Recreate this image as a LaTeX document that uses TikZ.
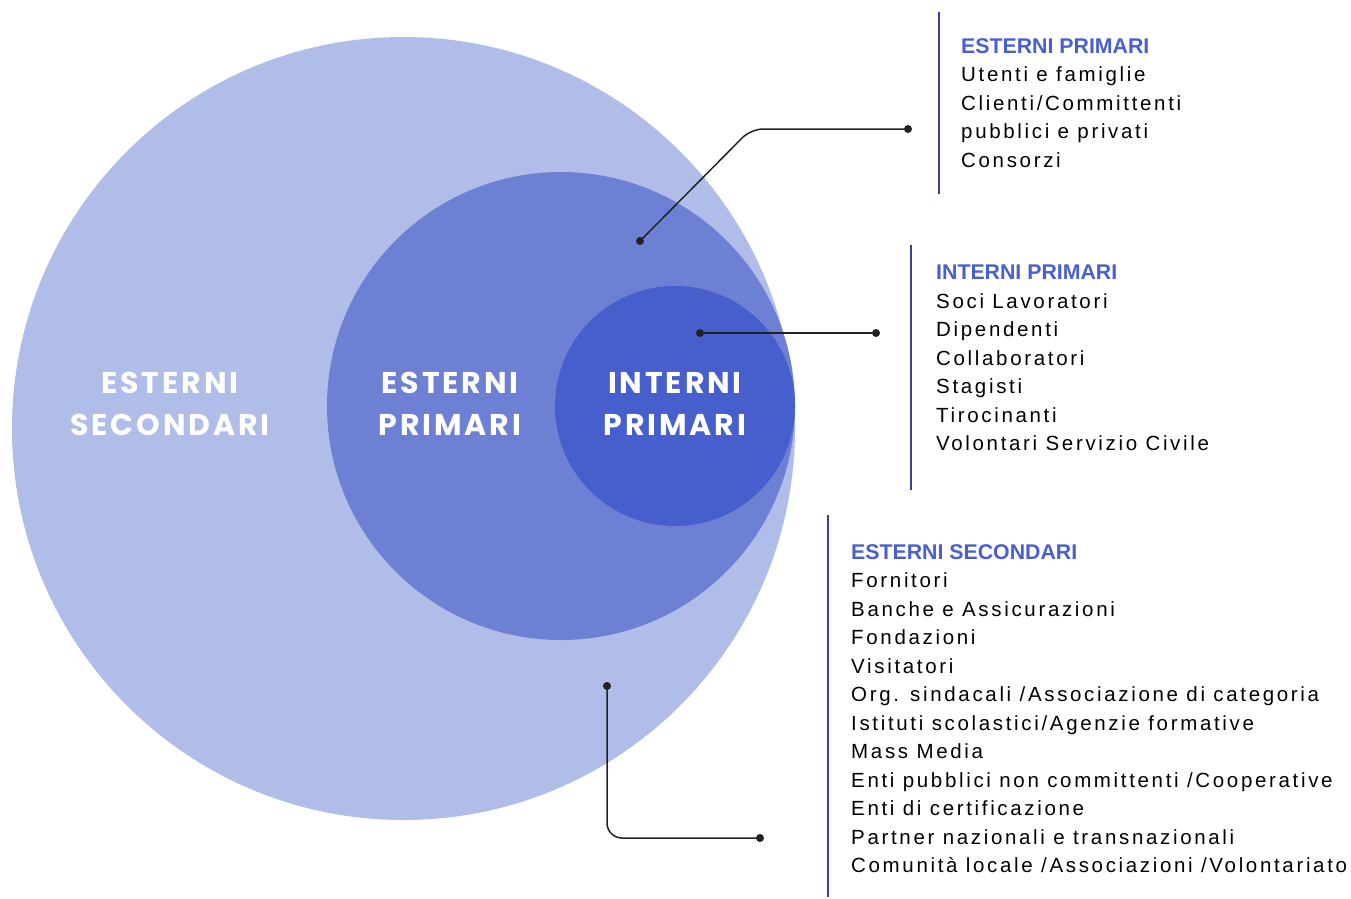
\documentclass[tikz,border=0pt]{standalone}
\usepackage{fontspec}
\setmainfont{Liberation Sans}
\newfontfamily\listfont[LetterSpace=13]{Liberation Sans}
\newfontfamily\headfont{Liberation Sans}
\newfontfamily\ringfont[LetterSpace=9.5]{Poppins}
\definecolor{secfill}{HTML}{B1BDE9}
\definecolor{primfill}{HTML}{6E80D4}
\definecolor{intfill}{HTML}{475FCC}
\definecolor{headblue}{HTML}{4A5FCF}
\definecolor{barblue}{HTML}{3A3F8F}
\definecolor{inkc}{HTML}{222222}
\begin{document}
\begin{tikzpicture}[x=1pt, y=-1pt,
    ring/.style={text=white, align=center, inner sep=0pt,
        font=\ringfont\bfseries\fontsize{30}{42}\selectfont},
    listblock/.style={anchor=north west, align=left, inner sep=0pt,
        font=\listfont\fontsize{20.5}{28.5}\selectfont},
    bar/.style={barblue, line width=2pt},
    conn/.style={inkc, line width=1.5pt},
    dot/.style={circle, fill=inkc, inner sep=0pt, minimum size=8pt}]
        \useasboundingbox (0,0) rectangle (1351,898);

        \fill[secfill] (403.5,428.5) circle (391.5pt);
        \fill[primfill] (561,406) circle (234pt);
        \fill[intfill] (675,406) circle (120pt);

        \node[ring] (R0) at (170,404) {ESTERNI\\SECONDARI};
        \node[ring] (R1) at (450,404) {ESTERNI\\PRIMARI};
        \node[ring] (R2) at (675,404) {INTERNI\\PRIMARI};

        \draw[bar] (939,12) -- (939,194);
        \draw[bar] (911,245) -- (911,490);
        \draw[bar] (828,515) -- (828,897);

        \node[listblock] (L0) at (961,38) {{\headfont\bfseries\fontsize{21.3}{28.5}\selectfont\color{headblue}ESTERNI PRIMARI}\\
            Utenti e famiglie\\Clienti/Committenti\\pubblici e privati\\Consorzi};
        \node[listblock] (L1) at (936,265) {{\headfont\bfseries\fontsize{21.3}{28.5}\selectfont\color{headblue}INTERNI PRIMARI}\\
            Soci Lavoratori\\Dipendenti\\Collaboratori\\Stagisti\\Tirocinanti\\Volontari Servizio Civile};
        \node[listblock] (L2) at (851,544) {{\headfont\bfseries\fontsize{21.3}{28.5}\selectfont\color{headblue}ESTERNI SECONDARI}\\
            Fornitori\\Banche e Assicurazioni\\Fondazioni\\Visitatori\\
            Org. sindacali /Associazione di categoria\\Istituti scolastici/Agenzie formative\\
            Mass Media\\Enti pubblici non committenti /Cooperative\\Enti di certificazione\\
            Partner nazionali e transnazionali\\Comunità locale /Associazioni /Volontariato};

        \node[dot] (D0) at (640,241) {};
        \node[dot] (E0) at (908,129) {};
        \node[dot] (D1) at (700,333) {};
        \node[dot] (E1) at (876,333) {};
        \node[dot] (D2) at (607,686) {};
        \node[dot] (E2) at (760,838) {};
        \coordinate (K0) at (751,129);

        \draw[conn, rounded corners=12pt] (D0.center) -- (K0) -- (E0.center);
        \draw[conn] (D1.center) -- (E1.center);
        \draw[conn, rounded corners=15pt] (D2.center) |- (E2.center);
    \end{tikzpicture}
\end{document}
